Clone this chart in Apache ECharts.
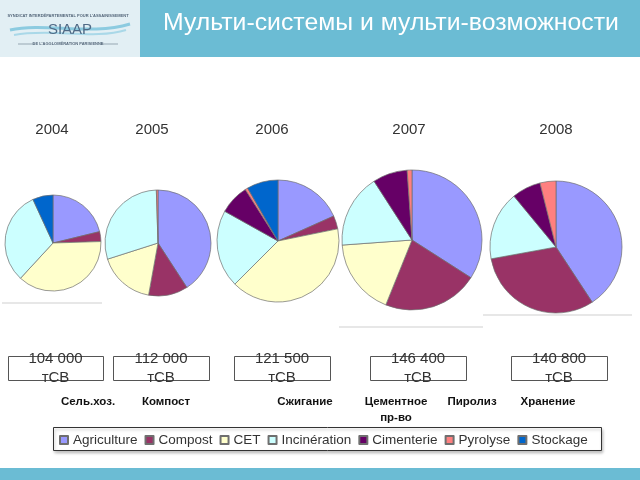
<!DOCTYPE html>
<html>
<head>
<meta charset="utf-8">
<script src="https://cdn.jsdelivr.net/npm/echarts@6/dist/echarts.min.js"></script>
<style>html,body{margin:0;padding:0;background:#fff}#c{width:640px;height:480px}</style>
</head>
<body>
<div id="c"></div>
<script>
// ---- data ----
const categories = ['Agriculture', 'Compost', 'CET', 'Incinération', 'Cimenterie', 'Pyrolyse', 'Stockage'];
const years = ['2004', '2005', '2006', '2007', '2008'];
const values2004 = [21.0, 3.3, 37.0, 31.0, 0, 0, 6.8];
const values2005 = [40.8, 12.0, 17.2, 29.4, 0, 0.5, 0];
const values2006 = [18.3, 3.5, 40.7, 20.6, 7.9, 0.7, 8.3];
const values2007 = [34.0, 22.0, 17.7, 17.0, 8.0, 1.1, 0];
const values2008 = [40.8, 31.4, 0, 16.9, 7.1, 3.9, 0];
const totals = ['104 000', '112 000', '121 500', '146 400', '140 800'];
const unit = 'тСВ';
const ruLabels = ['Сель.хоз.', 'Компост', 'Сжигание', 'Цементное\nпр-во', 'Пиролиз', 'Хранение'];
const title = 'Мульти-системы и мульти-возможности';

// ---- styles / layout ----
const palette = ['#9999FF', '#993366', '#FFFFCC', '#CCFFFF', '#660066', '#FF8080', '#0066CC'];
const allValues = [values2004, values2005, values2006, values2007, values2008];
const pieCenters = [[53, 243], [158, 243], [278, 241], [412, 240], [556, 247]];
const pieRadii = [48, 53, 61, 70, 66];
const yearX = [52, 152, 272, 409, 556];
const boxX = [[8, 103], [113, 209], [234, 330], [370, 466], [511, 607]];
const ruLabelX = [88, 166, 305, 396, 472, 548];
const FONT = '"Liberation Sans", Arial, sans-serif';

const series = allValues.map((vals, i) => ({
  type: 'pie',
  name: years[i],
  center: pieCenters[i],
  radius: [0, pieRadii[i]],
  startAngle: 90,
  clockwise: true,
  silent: true,
  label: { show: false },
  labelLine: { show: false },
  itemStyle: { borderColor: '#6f6f6f', borderWidth: 0.7 },
  data: categories.map((name, k) => ({
    name, value: vals[k], itemStyle: { color: palette[k] }
  })).filter(d => d.value > 0)
}));

const g = [];
// header
g.push({ type: 'rect', shape: { x: 0, y: 0, width: 140, height: 57 }, style: { fill: '#e2eff4' } });
g.push({ type: 'rect', shape: { x: 140, y: 0, width: 500, height: 57 }, style: { fill: '#6bbcd4' } });
g.push({ type: 'text', style: { text: title, x: 163, y: 23, fill: '#ffffff', font: '24.8px ' + FONT, textVerticalAlign: 'middle' } });
// logo
g.push({ type: 'text', style: { text: "SYNDICAT INTERDÉPARTEMENTAL POUR L'ASSAINISSEMENT", x: 68, y: 16, fill: '#55677a', font: 'bold 4px ' + FONT, textAlign: 'center', textVerticalAlign: 'middle' } });
g.push({ type: 'bezierCurve', shape: { x1: 10, y1: 30, x2: 130, y2: 24, cpx1: 45, cpy1: 22, cpx2: 90, cpy2: 36 }, style: { stroke: '#8ccbe0', lineWidth: 3, fill: null } });
g.push({ type: 'bezierCurve', shape: { x1: 14, y1: 35, x2: 126, y2: 30, cpx1: 50, cpy1: 28, cpx2: 95, cpy2: 40 }, style: { stroke: '#a9d8e8', lineWidth: 2, fill: null } });
g.push({ type: 'text', style: { text: 'SIAAP', x: 70, y: 30, fill: '#4f6a86', font: '15px ' + FONT, textAlign: 'center', textVerticalAlign: 'middle' } });
g.push({ type: 'line', shape: { x1: 18, y1: 44, x2: 35, y2: 44 }, style: { stroke: '#667788', lineWidth: 0.6 } });
g.push({ type: 'line', shape: { x1: 101, y1: 44, x2: 118, y2: 44 }, style: { stroke: '#667788', lineWidth: 0.6 } });
g.push({ type: 'text', style: { text: "DE L'AGGLOMÉRATION PARISIENNE", x: 68, y: 44, fill: '#55677a', font: 'bold 4px ' + FONT, textAlign: 'center', textVerticalAlign: 'middle' } });
// bottom bar
g.push({ type: 'rect', shape: { x: 0, y: 468, width: 640, height: 12 }, style: { fill: '#6bbcd4' } });
// years
years.forEach((y, i) => g.push({ type: 'text', style: { text: y, x: yearX[i], y: 130, fill: '#333', font: '15px ' + FONT, textAlign: 'center', textVerticalAlign: 'middle' } }));
// thin lines under some plots
g.push({ type: 'line', shape: { x1: 2, y1: 303, x2: 102, y2: 303 }, style: { stroke: '#cfcfcf', lineWidth: 1 } });
g.push({ type: 'line', shape: { x1: 339, y1: 327, x2: 483, y2: 327 }, style: { stroke: '#cfcfcf', lineWidth: 1 } });
g.push({ type: 'line', shape: { x1: 483, y1: 315, x2: 632, y2: 315 }, style: { stroke: '#cfcfcf', lineWidth: 1 } });
// total boxes
totals.forEach((t, i) => {
  const [x0, x1] = boxX[i];
  g.push({ type: 'rect', shape: { x: x0 + 0.5, y: 356.5, width: x1 - x0, height: 24 }, style: { fill: null, stroke: '#555', lineWidth: 1 } });
  g.push({ type: 'text', style: { text: t, x: (x0 + x1) / 2, y: 359, fill: '#333', font: '15px ' + FONT, textAlign: 'center', textVerticalAlign: 'middle' } });
  g.push({ type: 'text', style: { text: unit, x: (x0 + x1) / 2, y: 378, fill: '#333', font: '15px ' + FONT, textAlign: 'center', textVerticalAlign: 'middle' } });
});
// russian labels
ruLabels.forEach((t, i) => g.push({ type: 'text', style: { text: t, x: ruLabelX[i], y: 394, fill: '#111', font: 'bold 11.5px ' + FONT, textAlign: 'center', textVerticalAlign: 'top', lineHeight: 16 } }));
// legend frame
g.push({ type: 'rect', shape: { x: 53.5, y: 427.5, width: 548, height: 23 }, style: { fill: '#fff', stroke: '#333', lineWidth: 1, shadowBlur: 3, shadowOffsetX: 1, shadowOffsetY: 2, shadowColor: 'rgba(0,0,0,0.25)' } });

const option = {
  animation: false,
  backgroundColor: '#fff',
  legend: {
    data: categories,
    left: 59,
    top: 433,
    padding: 0,
    icon: 'rect',
    itemWidth: 8,
    itemHeight: 8,
    itemGap: 7,
    selectedMode: false,
    textStyle: { fontSize: 13.5, color: '#333', fontFamily: FONT }
  },
  graphic: { elements: g },
  series
};
const chart = echarts.init(document.getElementById('c'), null, { renderer: 'canvas' });
chart.setOption(option);
</script>
</body>
</html>
